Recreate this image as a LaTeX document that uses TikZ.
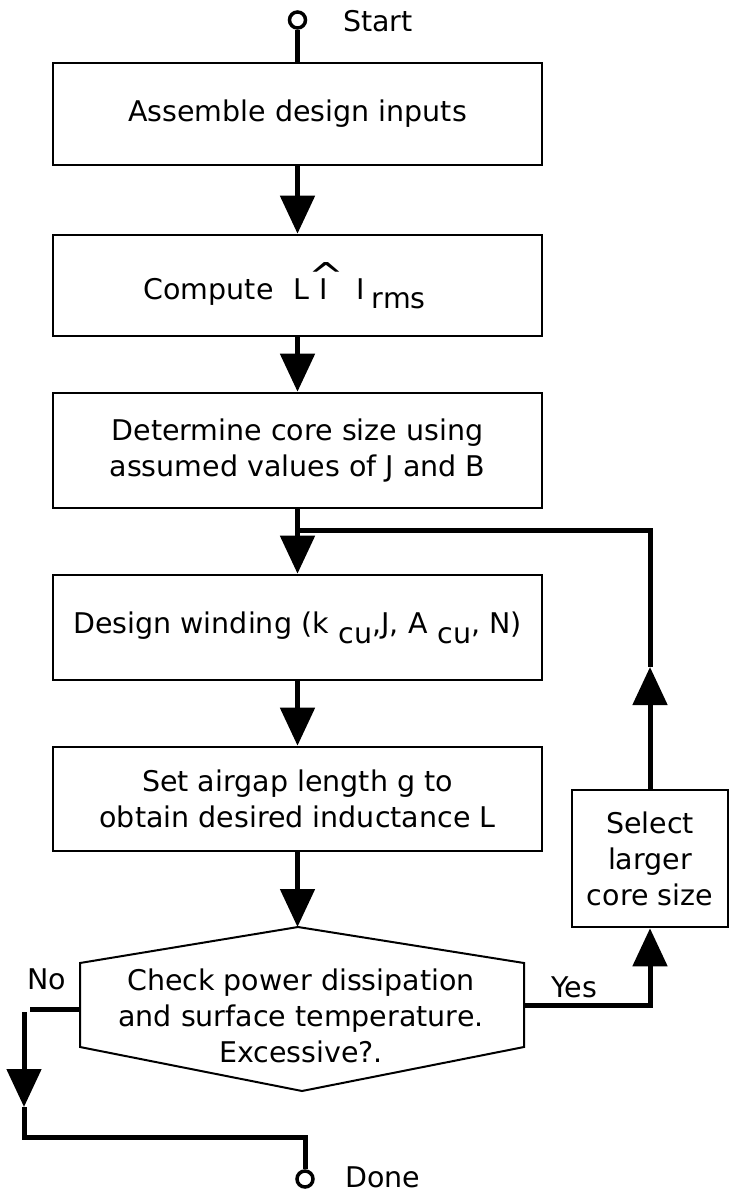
\documentclass[tikz,border=0pt]{standalone}
\usepackage{fontspec}
\setmainfont{DejaVu Sans}
\usetikzlibrary{arrows.meta}
\newcommand{\hatI}{\ooalign{\hidewidth\kern0.2em\raisebox{0.42em}{\scalebox{1.5}[1.25]{\textasciicircum}}\hidewidth\cr I\cr}}
\begin{document}
\begin{tikzpicture}[x=1pt,y=-1pt,
  txt/.style={font=\fontsize{28.5pt}{36pt}\selectfont, inner sep=0pt, align=center},
  box/.style={txt, draw, line width=2.6pt, minimum width=489pt},
  flow/.style={line width=5pt},
  arr/.style={flow, -{Triangle[width=34pt,length=38pt]}},
  term/.style={circle, draw, line width=3.5pt, minimum size=16pt, inner sep=0pt},
]
\useasboundingbox (0,0) rectangle (731,1193);

% terminals
\node[term] (start) at (297.5,20) {};
\node[txt, anchor=west] (startlbl) at (343,21) {Start};
\node[term] (done) at (305,1179) {};
\node[txt, anchor=west] (donelbl) at (345,1177) {Done};

% process boxes
\node[box, minimum height=102pt] (b1) at (297.5,114) {Assemble design inputs};
\node[box, minimum height=101pt] (b2) at (297.5,285.5)
  {Compute\hspace{0.7em}L\hspace{0.35em}\hatI\hspace{1em}I\hspace{0.25em}\raisebox{-0.3em}{rms}\hspace*{0.9em}};
\node[box, minimum height=115pt] (b3) at (297.5,450.5)
  {Determine core size using\\assumed values of J and B};
\node[box, minimum height=105pt] (b4) at (297.5,627.5)
  {Design winding (k\hspace{0.35em}\raisebox{-0.35em}{cu},J, A\hspace{0.35em}\raisebox{-0.35em}{cu}, N)};
\node[box, minimum height=104pt] (b5) at (297.5,799)
  {Set airgap length g to\\obtain desired inductance L};
\node[box, minimum width=156pt, minimum height=137pt] (sel) at (650,858.5)
  {Select\\larger\\core size};

% decision hexagon
\coordinate (hT) at (298,927);
\coordinate (hUR) at (524,963);
\coordinate (hLR) at (524,1047);
\coordinate (hB) at (302,1091);
\coordinate (hLL) at (80,1047);
\coordinate (hUL) at (80,963);
\draw[line width=2pt, line join=miter] (hT) -- (hUR) -- (hLR) -- (hB) -- (hLL) -- (hUL) -- cycle;
\node[txt] (hex) at (301,1016)
  {Check power dissipation\\and surface temperature.\\Excessive?.};
\node[txt] (yes) at (574,987) {Yes};
\node[txt] (no) at (47,979) {No};

% main flow
\draw[flow] (start.south) -- (b1.north);
\draw[arr] (b1.south) -- (b2.north);
\draw[arr] (b2.south) -- (b3.north);
\draw[arr] (b3.south) -- (b4.north);
\draw[arr] (b4.south) -- (b5.north);
\draw[arr] (b5.south) -- (b5.south |- hT);

% loop back (Yes)
\coordinate (yesS) at (524,1005);
\draw[arr] (yesS) -| (sel.south);
\coordinate (loopMid) at (650,667);
\coordinate (loopTop) at (650,530);
\coordinate (join) at (297.5,530);
\draw[arr] (sel.north) -- (loopMid);
\draw[flow, line join=miter] (loopMid) -- (loopTop) -- (join);

% No path
\coordinate (noA) at (80,1009);
\coordinate (noB) at (30,1009);
\coordinate (noC) at (24,1012);
\coordinate (noD) at (24,1107);
\coordinate (noE) at (24,1137);
\draw[flow] (noA) -- (noB);
\draw[arr] (noC) -- (noD);
\draw[flow, line join=miter] (noD) -- (noE) -| (done.north);
\end{tikzpicture}
\end{document}
